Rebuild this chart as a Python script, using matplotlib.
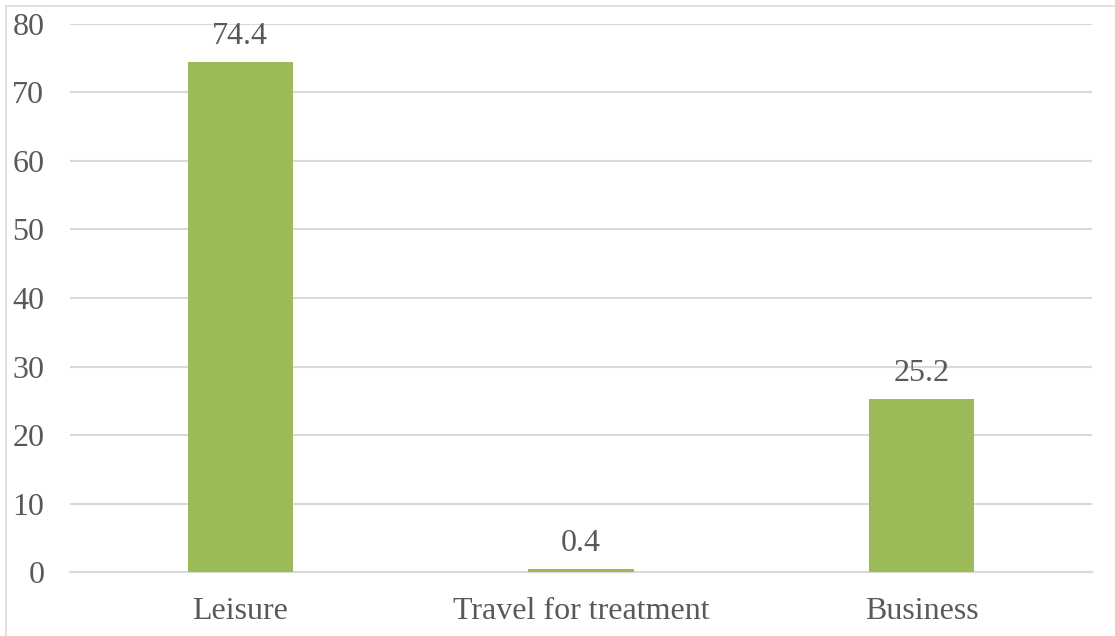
import matplotlib.pyplot as plt
from matplotlib.patches import Rectangle

categories = ["Leisure", "Travel for treatment", "Business"]
values = [74.4, 0.4, 25.2]

plt.rcParams['font.family'] = ['Liberation Serif', 'DejaVu Serif']

fig = plt.figure(figsize=(11.15, 6.36), dpi=100)
ax = fig.add_axes([0.0628, 0.1006, 0.9166, 0.8617])

text_color = "#595959"
grid_color = "#D9D9D9"
fsize = 23

bars = ax.bar(range(len(categories)), values, width=0.31, color="#9BBB59", zorder=3)
for bar, v in zip(bars, values):
    ax.text(bar.get_x() + bar.get_width() / 2, v + 1.6, f"{v}",
            ha="center", va="bottom", fontsize=fsize, color=text_color)

ax.set_xlim(-0.5, len(categories) - 0.5)
ax.set_ylim(0, 80)
ax.set_yticks(range(0, 81, 10))
ax.set_xticks(range(len(categories)))
ax.set_xticklabels(categories)
ax.tick_params(axis="both", length=0, labelsize=fsize, colors=text_color)
ax.tick_params(axis="y", pad=18.5)
ax.tick_params(axis="x", pad=18)
ax.yaxis.grid(True, color=grid_color, linewidth=1.5, zorder=0)
for side in ["top", "right", "left"]:
    ax.spines[side].set_visible(False)
ax.spines["bottom"].set_color(grid_color)
ax.spines["bottom"].set_linewidth(1.5)

# chart area border
fig.patches.append(Rectangle((6 / 1115, -0.1), 1.2, 1 - 6 / 636 + 0.1,
                             transform=fig.transFigure, fill=False,
                             edgecolor=grid_color, linewidth=1.2))

fig.savefig("out.png", dpi=100)
